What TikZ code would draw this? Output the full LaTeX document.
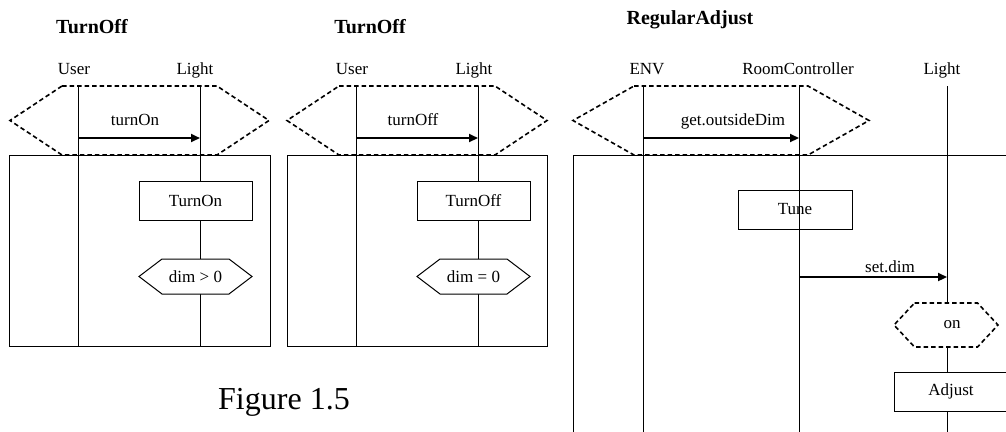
\documentclass[tikz,border=0pt]{standalone}
\usepackage{fontspec}
\setmainfont{Liberation Serif}
\usetikzlibrary{arrows.meta,calc}

\tikzset{
  lbl/.style={anchor=base, inner sep=0pt, font=\fontsize{17}{20}\selectfont},
  ttl/.style={anchor=base, inner sep=0pt, font=\fontsize{20}{24}\selectfont\bfseries},
  life/.style={line width=1pt},
  frm/.style={line width=1pt},
  msg/.style={line width=2.2pt, -{Triangle[length=9pt,width=8pt]}},
  guard/.style={line width=1.6pt, dash pattern=on 4.5pt off 3pt},
  cond/.style={line width=1pt, fill=white},
  slot/.style={inner sep=0pt, outer sep=0pt},
  actbox/.style={draw, line width=1pt, inner sep=0pt, font=\fontsize{17}{20}\selectfont},
  txt/.style={inner sep=0pt, font=\fontsize{17}{20}\selectfont},
}

% hexagonal outline around a named node: #1 style, #2 node, #3 corner inset
\newcommand\hexoutline[3][]{%
  \draw[#1] ($(#2.north west)+(#3,0)$) -- ($(#2.north east)+(-#3,0)$) -- (#2.east)
    -- ($(#2.south east)+(-#3,0)$) -- ($(#2.south west)+(#3,0)$) -- (#2.west) -- cycle;}

\begin{document}
\begin{tikzpicture}[x=1pt, y=-1pt]
\useasboundingbox (0,0) rectangle (1006,431);
\clip (0,0) rectangle (1006,431);

% ---------------- first TurnOff chart ----------------
\node[ttl] (t1) at (92,33) {TurnOff};
\node[lbl] (n1u) at (74,74) {User};
\node[lbl] (n1l) at (195,74) {Light};
\node[slot, minimum width=259pt, minimum height=69pt] (g1) at (139.5,120.5) {};
\hexoutline[guard]{g1}{52}
\draw[frm] (9,155) rectangle (270,346);
\coordinate (u1top) at (78,86);  \coordinate (u1bot) at (78,346);
\coordinate (l1top) at (200,86); \coordinate (l1bot) at (200,346);
\draw[life] (u1top) -- (u1bot);
\draw[life] (l1top) -- (l1bot);
\coordinate (m1a) at (78,138); \coordinate (m1b) at (200,138);
\draw[msg] (m1a) -- (m1b);
\node[lbl] (m1t) at (135,125) {turnOn};
\node[actbox, fill=white, minimum width=113pt, minimum height=39pt] (a1) at (195.5,200.5) {TurnOn};
\node[slot, minimum width=113pt, minimum height=35pt] (s1) at (195.5,276.5) {};
\hexoutline[cond]{s1}{23}
\node[txt] at (s1) {dim > 0};

% ---------------- second TurnOff chart ----------------
\node[ttl] (t2) at (370,33) {TurnOff};
\node[lbl] (n2u) at (352,74) {User};
\node[lbl] (n2l) at (474,74) {Light};
\node[slot, minimum width=260pt, minimum height=69pt] (g2) at (417,120.5) {};
\hexoutline[guard]{g2}{52}
\draw[frm] (287,155) rectangle (547,346);
\coordinate (u2top) at (356,86);  \coordinate (u2bot) at (356,346);
\coordinate (l2top) at (478,86);  \coordinate (l2bot) at (478,346);
\draw[life] (u2top) -- (u2bot);
\draw[life] (l2top) -- (l2bot);
\coordinate (m2a) at (356,138); \coordinate (m2b) at (478,138);
\draw[msg] (m2a) -- (m2b);
\node[lbl] (m2t) at (413,125) {turnOff};
\node[actbox, fill=white, minimum width=113pt, minimum height=39pt] (a2) at (473.5,200.5) {TurnOff};
\node[slot, minimum width=113pt, minimum height=35pt] (s2) at (473.5,276.5) {};
\hexoutline[cond]{s2}{23}
\node[txt] at (s2) {dim = 0};

% ---------------- RegularAdjust chart ----------------
\node[ttl] (t3) at (690,24) {RegularAdjust};
\node[lbl] (n3e) at (647,74) {ENV};
\node[lbl] (n3r) at (798,74) {RoomController};
\node[lbl] (n3l) at (942,74) {Light};
\node[slot, minimum width=296pt, minimum height=69pt] (g3) at (721,120.5) {};
\hexoutline[guard]{g3}{61}
\draw[frm] (1012,155) -- (573,155) -- (573,440);
\coordinate (etop) at (643,86);  \coordinate (ebot) at (643,440);
\coordinate (rtop) at (799,86);  \coordinate (rbot) at (799,440);
\coordinate (ltop) at (947,86);  \coordinate (lbot) at (947,440);
\draw[life] (etop) -- (ebot);
\draw[life] (rtop) -- (rbot);
\draw[life] (ltop) -- (lbot);
\coordinate (m3a) at (643,138); \coordinate (m3b) at (799,138);
\draw[msg] (m3a) -- (m3b);
\node[lbl] (m3t) at (733,125) {get.outsideDim};
\node[actbox, minimum width=114pt, minimum height=39pt] (tune) at (795,209.5) {Tune};
\coordinate (m4a) at (799,277); \coordinate (m4b) at (947,277);
\draw[msg] (m4a) -- (m4b);
\node[lbl] (m4t) at (890,272) {set.dim};
\node[slot, minimum width=104pt, minimum height=44pt] (on) at (946,325) {};
\hexoutline[guard, fill=white]{on}{20.5}
\node[txt] at (952,325) {on};
\node[actbox, fill=white, minimum width=114pt, minimum height=39pt, text width=114pt, align=center] (adj) at (951,391.5) {Adjust};

% ---------------- caption ----------------
\node[anchor=base west, inner sep=0pt, font=\fontsize{32}{36}\selectfont] (cap) at (218,409) {Figure 1.5};
\end{tikzpicture}
\end{document}
